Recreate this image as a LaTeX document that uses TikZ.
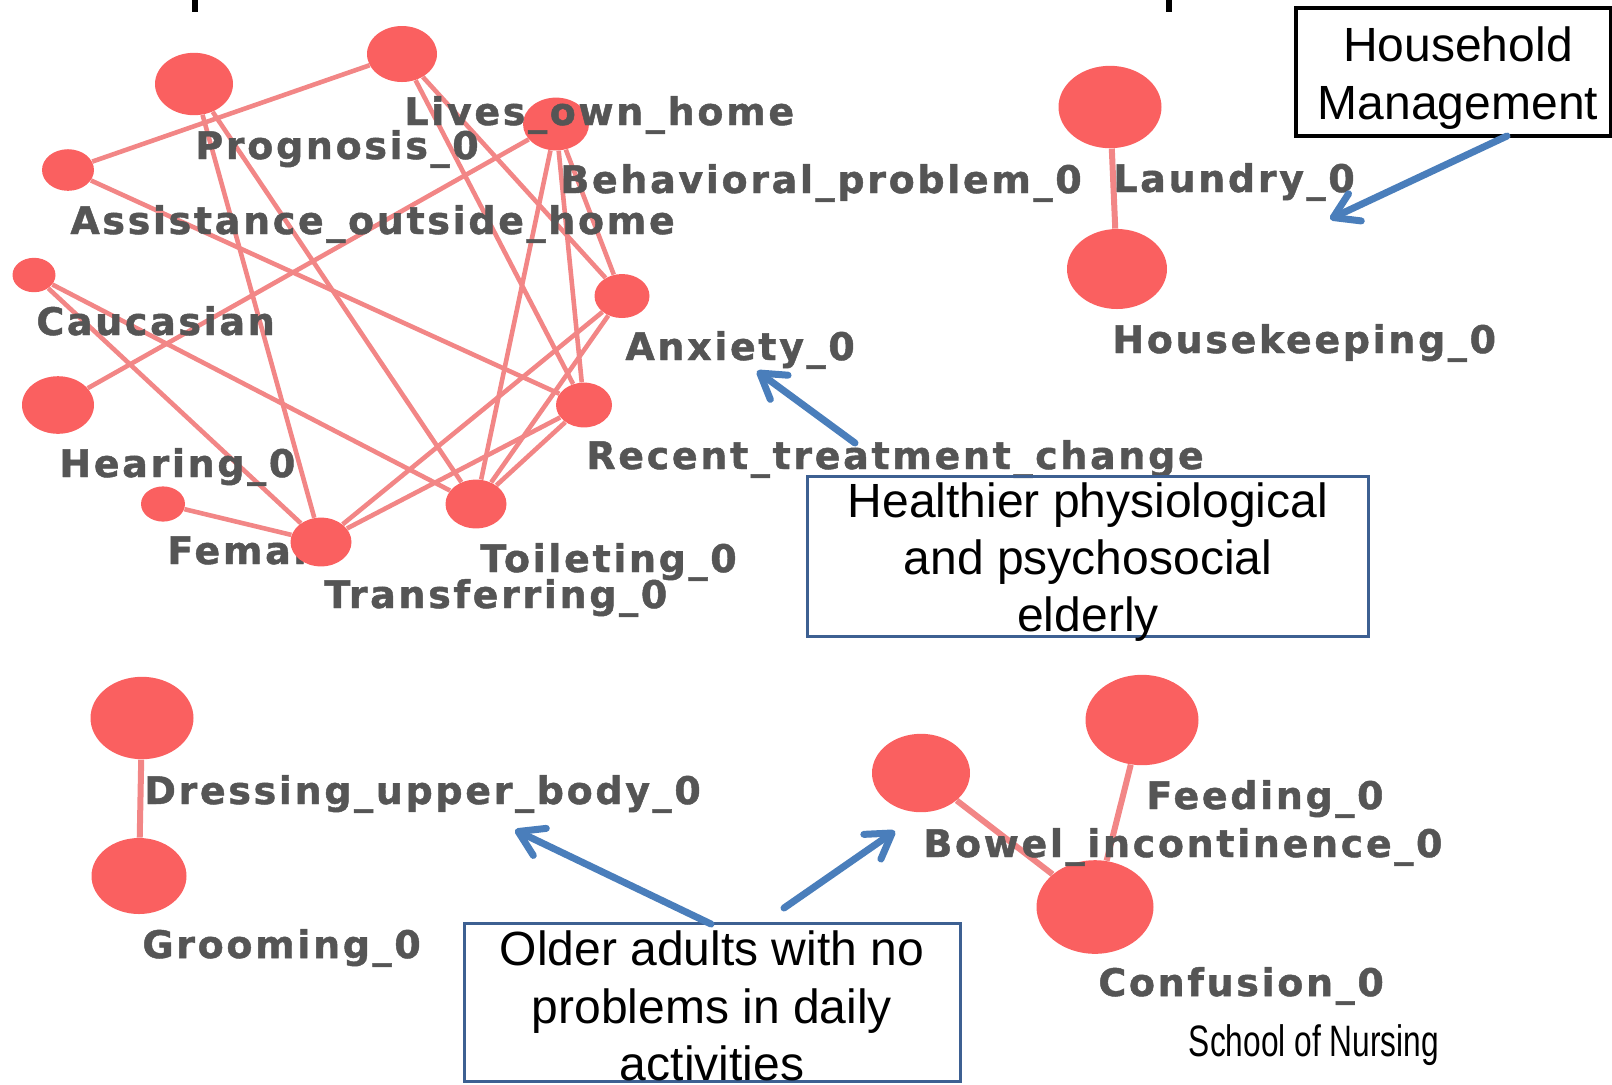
\documentclass[tikz,border=0pt]{standalone}
\usepackage{fontspec}
\setmainfont{Liberation Sans}
\newfontfamily\labfont{DejaVu Sans}[LetterSpace=7,FakeBold=1.2]
\usetikzlibrary{arrows.meta,backgrounds,shapes.geometric}

\definecolor{nodered}{RGB}{250,96,96}
\definecolor{edgepink}{RGB}{242,134,134}
\definecolor{labgray}{RGB}{85,85,85}
\definecolor{boxblue}{RGB}{61,96,146}
\definecolor{arrowblue}{RGB}{74,126,187}

\begin{document}
\begin{tikzpicture}[x=0.5pt,y=-0.5pt,
    vertex/.style={ellipse,fill=nodered,inner sep=0pt,minimum width=#1,minimum height=0.8*#1},
    link/.style={draw=edgepink,line width=2.3pt},
    heavylink/.style={draw=edgepink,line width=3pt},
    lab/.style={font=\labfont\bfseries\fontsize{19}{21}\selectfont,text=labgray,inner sep=0pt,anchor=base west},
    callout/.style={draw=boxblue,line width=1.5pt,inner sep=0pt},
    note/.style={font=\fontsize{24}{28.6}\selectfont,align=center,inner sep=0pt},
    pointer/.style={draw=arrowblue,line width=3.5pt,line cap=round,-{Straight Barb[length=12pt,width=15pt,round]}}]

\clip (0,0) rectangle (1612,1084);

% remains of the title above
\fill (192,0) rectangle (198,12);
\fill (1166,0) rectangle (1172,12);

% Vertices of the big cluster
\node[vertex=39pt] (prog) at (194,84) {};
\node[vertex=35pt] (lives) at (402,54) {};
\node[vertex=33pt] (behav) at (556,124) {};
\node[vertex=26pt] (assist) at (68,170) {};
\node[vertex=21.5pt] (cauc) at (34,275) {};
\node[vertex=36pt] (hear) at (58,405) {};
\node[vertex=22pt] (female) at (163,504) {};
\node[vertex=30.5pt] (transf) at (321,542) {};
\node[vertex=30.5pt] (toil) at (476,504) {};
\node[vertex=28pt] (recent) at (584,405) {};
\node[vertex=27.5pt] (anx) at (622,296) {};

% Vertices of the small groups
\node[vertex=51.5pt] (laundry) at (1110,107) {};
\node[vertex=50pt] (housek) at (1117,269) {};
\node[vertex=51.5pt] (dress) at (142,718) {};
\node[vertex=47.5pt] (groom) at (139,876) {};
\node[vertex=49pt] (bowel) at (921,773) {};
\node[vertex=56.5pt] (feed) at (1142,720) {};
\node[vertex=58.5pt] (conf) at (1095,907) {};

\begin{scope}[on background layer]
% Edges
\draw[link] (assist) -- (lives);
\draw[link] (assist) -- (recent);
\draw[link] (prog) -- (transf);
\draw[link] (prog) -- (toil);
\draw[link] (lives) -- (recent);
\draw[link] (lives) -- (anx);
\draw[link] (behav) -- (hear);
\draw[link] (behav) -- (toil);
\draw[link] (behav) -- (recent);
\draw[link] (behav) -- (anx);
\draw[link] (cauc) -- (transf);
\draw[link] (cauc) -- (toil);
\draw[link] (female) -- (transf);
\draw[link] (transf) -- (anx);
\draw[link] (transf) -- (recent);
\draw[link] (toil) -- (anx);
\draw[link] (toil) -- (recent);
\draw[heavylink] (laundry) -- (housek);
\draw[heavylink] (dress) -- (groom);
\draw[heavylink] (bowel) -- (conf);
\draw[heavylink] (feed) -- (conf);
% this one is hidden in part by Transferring
\node[lab] (female-l) at (167,564) {Female};
\end{scope}

% Labels
\node[lab] (lives-l) at (404,125) {Lives\_own\_home};
\node[lab] (prog-l) at (195,159) {Prognosis\_0};
\node[lab] (behav-l) at (560,193) {Behavioral\_problem\_0};
\node[lab] (assist-l) at (70,234) {Assistance\_outside\_home};
\node[lab] (cauc-l) at (36,335) {Caucasian};
\node[lab] (anx-l) at (625,360) {Anxiety\_0};
\node[lab] (hear-l) at (59,477) {Hearing\_0};
\node[lab] (recent-l) at (586,469) {Recent\_treatment\_change};
\node[lab] (toil-l) at (480,572) {Toileting\_0};
\node[lab] (transf-l) at (324,608) {Transferring\_0};
\node[lab] (laundry-l) at (1113,192) {Laundry\_0};
\node[lab] (housek-l) at (1112,353) {Housekeeping\_0};
\node[lab] (dress-l) at (144,804) {Dressing\_upper\_body\_0};
\node[lab] (groom-l) at (142,958) {Grooming\_0};
\node[lab] (feed-l) at (1146,809) {Feeding\_0};
\node[lab] (bowel-l) at (923,857) {Bowel\_incontinence\_0};
\node[lab] (conf-l) at (1098,996) {Confusion\_0};

% Callout boxes
\node[draw=black,line width=2pt,minimum width=157.5pt,minimum height=64pt,inner sep=0pt] (hm-box) at (1453,72) {};
\node[note] (hm-txt) at (1458,78) {Household\\Management};
\node[callout,minimum width=280.5pt,minimum height=80pt] (healthy-box) at (1088,556) {};
\node[note] (healthy-txt) at (1088,562) {Healthier physiological\\and psychosocial\\elderly};
\node[callout,minimum width=248pt,minimum height=79pt] (older-box) at (712,1002) {};
\node[note] (older-txt) at (712,1006) {Older adults with no\\problems in daily\\activities};

% Arrows
\coordinate (hm-tail) at (1507,136);
\coordinate (hm-tip) at (1330,219);
\coordinate (healthy-tail) at (855,443);
\coordinate (healthy-tip) at (757,371);
\coordinate (older-tail1) at (711,924);
\coordinate (older-tip1) at (515,830);
\coordinate (older-tail2) at (784,908);
\coordinate (older-tip2) at (895,831);
\draw[pointer] (hm-tail) -- (hm-tip);
\draw[pointer] (healthy-tail) -- (healthy-tip);
\draw[pointer] (older-tail1) -- (older-tip1);
\draw[pointer] (older-tail2) -- (older-tip2);

\node[font=\fontsize{22}{24}\selectfont,inner sep=0pt,anchor=base] (school) at (1314,1056) {\scalebox{0.72}[1]{School of Nursing}};

\end{tikzpicture}
\end{document}
